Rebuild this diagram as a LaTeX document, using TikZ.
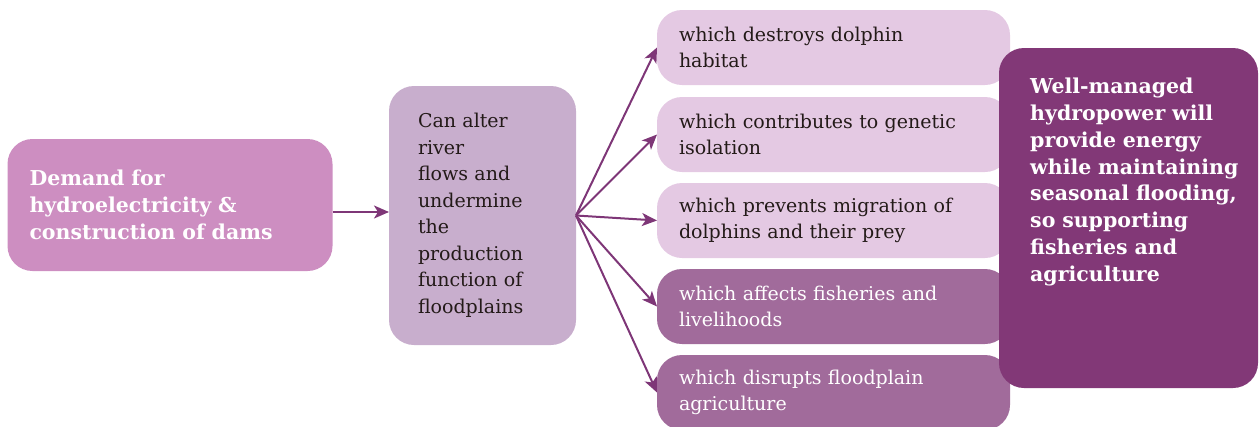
\documentclass[tikz,border=0pt]{standalone}
\usepackage{fontspec}
\setmainfont{DejaVu Serif}
\usetikzlibrary{arrows.meta}
\definecolor{cLeft}{HTML}{CD8EC1}
\definecolor{cMid}{HTML}{C8AECD}
\definecolor{cLight}{HTML}{E4C9E3}
\definecolor{cMed}{HTML}{A16B9B}
\definecolor{cDark}{HTML}{823877}
\definecolor{cArrow}{HTML}{7E3677}
\definecolor{cText}{HTML}{231A18}
\begin{document}
\begin{tikzpicture}[x=1pt,y=-1pt,
  box/.style={rounded corners=25pt, inner ysep=0pt, outer sep=0pt, align=left, anchor=center},
  reg/.style={font=\fontsize{19}{26.5}\selectfont},
  bld/.style={font=\bfseries\fontsize{20.5}{26.8}\selectfont},
  rbox/.style={box, reg, text width=309pt, inner xsep=22pt, minimum height=75pt},
  lightbox/.style={rbox, fill=cLight, text=cText},
  medbox/.style={rbox, fill=cMed, text=white},
  arr/.style={draw=cArrow, line width=2pt, -{Stealth[length=15pt,width=13pt,inset=4pt]}}]
\useasboundingbox (0,0) rectangle (1259,426);
\clip (0,0) rectangle (1259,426);
\node[box, bld, fill=cLeft, text=white, text width=281pt, inner xsep=22pt, minimum height=132pt] (dem) at (170,205)
  {Demand for\\hydroelectricity \&\\construction of dams};
\node[box, reg, fill=cMid, text=cText, text width=129pt, inner xsep=29pt, minimum height=259pt] (mid) at (482.5,215.5)
  {Can alter\\river\\flows and\\undermine\\the\\production\\function of\\floodplains};
\node[lightbox] (r1) at (833.5,47.5) {which destroys dolphin\\habitat};
\node[lightbox] (r2) at (833.5,134.5) {which contributes to genetic\\isolation};
\node[lightbox] (r3) at (833.5,220.5) {which prevents migration of\\dolphins and their prey};
\node[medbox] (r4) at (833.5,306.5) {which affects fisheries and\\livelihoods};
\node[medbox] (r5) at (833.5,392.5) {which disrupts floodplain\\agriculture};
\node[box, fill=cDark, minimum width=259pt, minimum height=340pt] (wm) at (1128.5,218) {};
\node[bld, text=white, anchor=north west, inner sep=0pt, align=left, text width=224pt] (wmtext) at ([shift={(31,30)}]wm.north west)
  {Well-managed\\hydropower will\\provide energy\\while maintaining\\seasonal flooding,\\so supporting\\fisheries and\\agriculture};
\coordinate (a1) at ([yshift=3.5pt]mid.west);
\draw[arr] (dem.east |- a1) -- (a1);
\foreach \n in {r1,r2,r3,r4,r5} \draw[arr] (mid.east) -- (\n.west);
\end{tikzpicture}
\end{document}
